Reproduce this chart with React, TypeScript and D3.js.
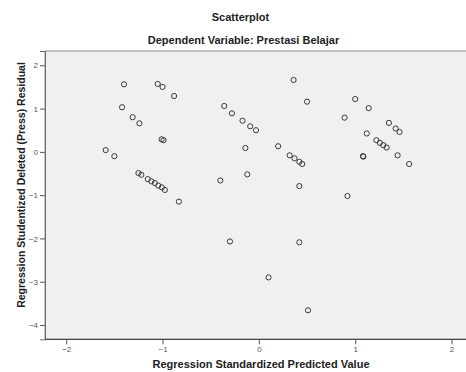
import React, { useEffect, useRef } from 'react';
import * as d3 from 'd3';

// predicted value (x) and studentized deleted residual (y)
const predicted = [
  -1.59, -1.50, -1.40, -1.42, -1.31, -1.24, -1.25, -1.22, -1.153, -1.116, -1.08, -1.044, -1.007, -0.976,
  -1.05, -1.00, -0.88, -1.01, -0.99, -0.83,
  -0.36, -0.28, -0.17, -0.09, -0.03, -0.14, -0.40, -0.12,
  0.36, 0.50, 0.20, 0.32, 0.37, 0.42, 0.45, 0.42,
  -0.30, 0.42, 0.10, 0.51,
  1.00, 1.14, 0.89, 1.35, 1.42, 1.46, 1.12, 1.22, 1.256, 1.291, 1.326, 1.08, 1.085, 1.44, 1.56, 0.92,
];
const residual = [
  0.04, -0.10, 1.56, 1.03, 0.80, 0.66, -0.49, -0.53, -0.63, -0.68, -0.72, -0.78, -0.82, -0.88,
  1.57, 1.50, 1.29, 0.29, 0.27, -1.15,
  1.06, 0.89, 0.72, 0.59, 0.50, 0.09, -0.66, -0.52,
  1.66, 1.16, 0.13, -0.08, -0.15, -0.23, -0.28, -0.79,
  -2.07, -2.09, -2.90, -3.66,
  1.22, 1.01, 0.79, 0.67, 0.54, 0.46, 0.425, 0.27, 0.208, 0.155, 0.10, -0.10, -0.11, -0.08, -0.28, -1.02,
];
const xTicks = [-2, -1, 0, 1, 2];
const yTicks = [2, 1, 0, -1, -2, -3, -4];

const title = 'Scatterplot';
const subtitle = 'Dependent Variable: Prestasi Belajar';
const xTitle = 'Regression Standardized Predicted Value';
const yTitle = 'Regression Studentized Deleted (Press) Residual';

export default function App() {
  const ref = useRef<SVGSVGElement>(null);

  useEffect(() => {
    const W = 466, H = 372;
    const left = 45, right = 470, top = 51, bottom = 339.3;
    const font = '"Liberation Sans", Arial, sans-serif';

    const svg = d3.select(ref.current).attr('width', W).attr('height', H);
    svg.selectAll('*').remove();

    svg.append('rect').attr('width', W).attr('height', H).attr('fill', '#ffffff');

    const x = d3.scaleLinear().domain([-2.22, 2.15]).range([left, 466]);
    const y = d3.scaleLinear().domain([-4.33, 2.33]).range([bottom, top]);

    // plot frame
    svg.append('rect')
      .attr('x', left).attr('y', top)
      .attr('width', right - left).attr('height', bottom - top)
      .attr('fill', '#f0f0f0').attr('stroke', '#8a8a8a').attr('stroke-width', 1);

    // y axis
    const yAxis = svg.append('g')
      .attr('transform', `translate(${left},0)`)
      .call(d3.axisLeft(y).tickValues(yTicks).tickSize(5).tickPadding(2).tickFormat(d3.format('d')));
    yAxis.select('.domain').attr('stroke', '#6e6e6e');
    yAxis.selectAll('.tick line').attr('stroke', '#555');
    yAxis.selectAll('.tick text').attr('fill', '#555').attr('font-size', 8).attr('font-family', font);

    // x axis
    const xAxis = svg.append('g')
      .attr('transform', `translate(0,${bottom})`)
      .call(d3.axisBottom(x).tickValues(xTicks).tickSize(5).tickPadding(2).tickFormat(d3.format('d')));
    xAxis.select('.domain').attr('stroke', '#333').attr('d', `M${left},0H${right}`);
    xAxis.selectAll('.tick line').attr('stroke', '#555');
    xAxis.selectAll('.tick text').attr('fill', '#555').attr('font-size', 8).attr('font-family', font);

    // points
    const data = predicted.map((p, i) => ({ p, r: residual[i] }));
    svg.append('g').selectAll('circle')
      .data(data)
      .join('circle')
      .attr('cx', d => x(d.p))
      .attr('cy', d => y(d.r))
      .attr('r', 2.6)
      .attr('fill', 'none')
      .attr('stroke', '#3a3a3a')
      .attr('stroke-width', 1);

    // titles
    svg.append('text')
      .attr('x', 240.5).attr('y', 21)
      .attr('text-anchor', 'middle')
      .attr('font-family', font).attr('font-size', 11).attr('font-weight', 'bold')
      .attr('fill', '#222')
      .text(title);
    svg.append('text')
      .attr('x', 243.5).attr('y', 44)
      .attr('text-anchor', 'middle')
      .attr('font-family', font).attr('font-size', 11).attr('font-weight', 'bold')
      .attr('fill', '#222')
      .text(subtitle);
    svg.append('text')
      .attr('x', 261).attr('y', 367.5)
      .attr('text-anchor', 'middle')
      .attr('font-family', font).attr('font-size', 11).attr('font-weight', 'bold')
      .attr('fill', '#222')
      .text(xTitle);
    svg.append('text')
      .attr('transform', `translate(24.5,185) rotate(-90)`)
      .attr('text-anchor', 'middle')
      .attr('font-family', font).attr('font-size', 10.5).attr('font-weight', 'bold')
      .attr('fill', '#222')
      .text(yTitle);
  }, []);

  return (
    <svg ref={ref} style={{ position: 'absolute', left: 0, top: 0, display: 'block' }} />
  );
}
